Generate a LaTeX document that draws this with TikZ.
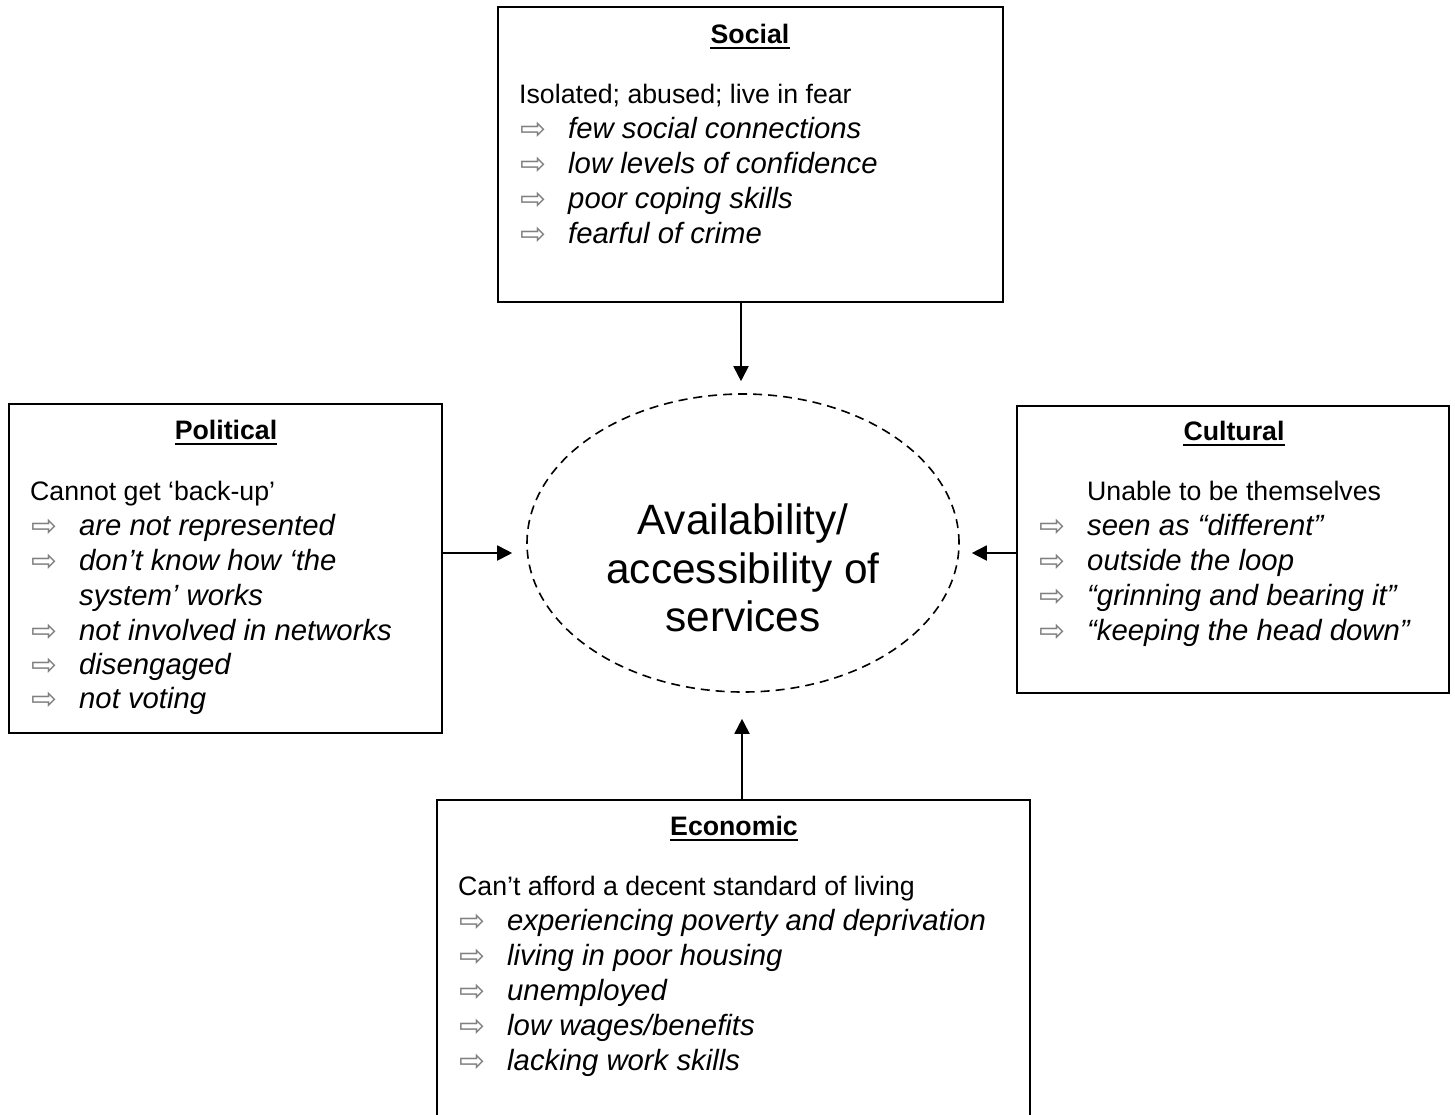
\documentclass[tikz,border=0pt]{standalone}
\usepackage{fontspec}
\setmainfont{Liberation Sans}
\newfontfamily\symfont{DejaVu Sans}
\usetikzlibrary{arrows.meta,shapes.geometric}

\tikzset{
  panel/.style={draw, line width=1.8pt, rectangle, inner sep=0pt},
  heading/.style={anchor=base, inner sep=0pt, font=\bfseries\fontsize{26.7}{35}\selectfont},
  lead/.style={anchor=base west, inner sep=0pt, font=\fontsize{26.7}{35}\selectfont},
  point/.style={anchor=base west, inner sep=0pt, font=\itshape\fontsize{29.3}{35}\selectfont},
  bullet/.style={anchor=base west, inner sep=0pt, yshift=-1.5pt, text=black!50, font=\symfont\fontsize{31}{35}\selectfont},
  hubshape/.style={draw, ellipse, line width=1.6pt, dash pattern=on 9pt off 6pt,
    minimum width=432pt, minimum height=298pt, inner sep=0pt},
  hubtext/.style={anchor=north, inner sep=0pt, align=center, font=\fontsize{42.4}{48.5}\selectfont},
  rule/.style={line width=2pt},
  link/.style={line width=1.8pt, -{Triangle[length=15pt,width=15pt]}},
}

\begin{document}
\begin{tikzpicture}[x=1pt, y=-1pt]
\clip (0,0) rectangle (1455,1114);
\fill[white] (0,0) rectangle (1455,1114);

% ---- centre ellipse ----
\node[hubshape] (hub) at (743,543) {};
\node[hubtext] (hubt) at (743,504) {Availability/\\accessibility of\\services};

% ---- Social ----
\node[panel, minimum width=505pt, minimum height=295pt] (social) at (750.5,154.5) {};
\node[heading] (socialh) at (750,43) {Social};
\draw[rule] ([yshift=-5pt]socialh.base west) -- ([yshift=-5pt]socialh.base east);
\node[lead] (s0) at (519,103) {Isolated; abused; live in fear};
\node[bullet] (sb1) at (520,138) {⇨}; \node[point] (s1) at (568,138) {few social connections};
\node[bullet] (sb2) at (520,173) {⇨}; \node[point] (s2) at (568,173) {low levels of confidence};
\node[bullet] (sb3) at (520,208) {⇨}; \node[point] (s3) at (568,208) {poor coping skills};
\node[bullet] (sb4) at (520,243) {⇨}; \node[point] (s4) at (568,243) {fearful of crime};

% ---- Political ----
\node[panel, minimum width=433pt, minimum height=329pt] (political) at (225.5,568.5) {};
\node[heading] (politicalh) at (226,439) {Political};
\draw[rule] ([yshift=-5pt]politicalh.base west) -- ([yshift=-5pt]politicalh.base east);
\node[lead] (p0) at (30,500) {Cannot get ‘back-up’};
\node[bullet] (pb1) at (31,535) {⇨}; \node[point] (p1) at (79,535) {are not represented};
\node[bullet] (pb2) at (31,570) {⇨}; \node[point] (p2) at (79,570) {don’t know how ‘the};
\node[point] (p2b) at (79,605) {system’ works};
\node[bullet] (pb3) at (31,640) {⇨}; \node[point] (p3) at (79,640) {not involved in networks};
\node[bullet] (pb4) at (31,674) {⇨}; \node[point] (p4) at (79,674) {disengaged};
\node[bullet] (pb5) at (31,708) {⇨}; \node[point] (p5) at (79,708) {not voting};

% ---- Cultural ----
\node[panel, minimum width=432pt, minimum height=287pt] (cultural) at (1233,549.5) {};
\node[heading] (culturalh) at (1234,440) {Cultural};
\draw[rule] ([yshift=-5pt]culturalh.base west) -- ([yshift=-5pt]culturalh.base east);
\node[lead] (c0) at (1087,500) {Unable to be themselves};
\node[bullet] (cb1) at (1039,535) {⇨}; \node[point] (c1) at (1087,535) {seen as “different”};
\node[bullet] (cb2) at (1039,570) {⇨}; \node[point] (c2) at (1087,570) {outside the loop};
\node[bullet] (cb3) at (1039,605) {⇨}; \node[point] (c3) at (1087,605) {“grinning and bearing it”};
\node[bullet] (cb4) at (1039,640) {⇨}; \node[point] (c4) at (1087,640) {“keeping the head down”};

% ---- Economic (runs past the lower edge) ----
\node[panel, minimum width=593pt, minimum height=360pt] (economic) at (733.5,980) {};
\node[heading] (economich) at (734,835) {Economic};
\draw[rule] ([yshift=-5pt]economich.base west) -- ([yshift=-5pt]economich.base east);
\node[lead] (e0) at (458,895) {Can’t afford a decent standard of living};
\node[bullet] (eb1) at (459,930) {⇨}; \node[point] (e1) at (507,930) {experiencing poverty and deprivation};
\node[bullet] (eb2) at (459,965) {⇨}; \node[point] (e2) at (507,965) {living in poor housing};
\node[bullet] (eb3) at (459,1000) {⇨}; \node[point] (e3) at (507,1000) {unemployed};
\node[bullet] (eb4) at (459,1035) {⇨}; \node[point] (e4) at (507,1035) {low wages/benefits};
\node[bullet] (eb5) at (459,1070) {⇨}; \node[point] (e5) at (507,1070) {lacking work skills};

% ---- connectors into the ellipse ----
\coordinate (tt) at ([xshift=-2pt,yshift=12pt]hub.north);
\coordinate (lt) at ([xshift=-14pt,yshift=-10pt]hub.west);
\coordinate (rt) at ([xshift=12pt,yshift=-10pt]hub.east);
\coordinate (bt) at ([xshift=-1pt,yshift=-26pt]hub.south);
\draw[link] (social.south -| tt) -- (tt);
\draw[link] (political.east |- lt) -- (lt);
\draw[link] (cultural.west |- rt) -- (rt);
\draw[link] (economic.north -| bt) -- (bt);
\end{tikzpicture}
\end{document}
